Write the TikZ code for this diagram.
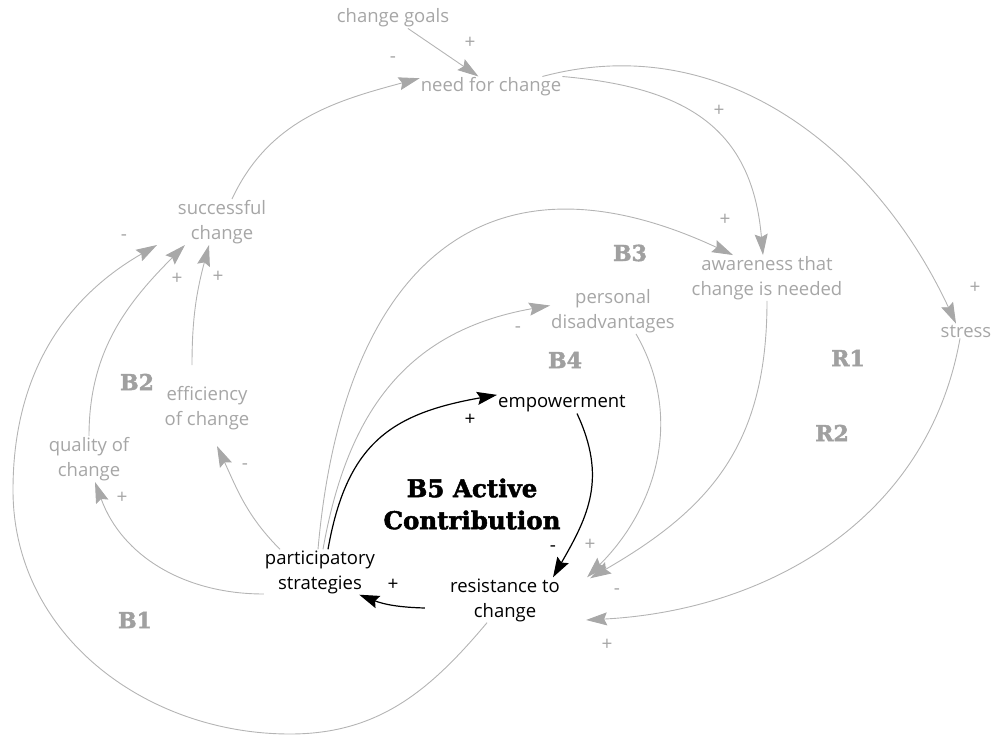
\documentclass[tikz,border=0pt]{standalone}
\usepackage{fontspec}
\setmainfont{Open Sans}
\newfontfamily\slabfont{DejaVu Serif}[BoldFeatures={FakeBold=2}]
\usetikzlibrary{arrows.meta}
\definecolor{vargray}{HTML}{A6A6A6}
\definecolor{linkgray}{HTML}{B4B4B4}
\definecolor{headgray}{HTML}{A8A8A8}
\definecolor{loopgray}{HTML}{A0A0A0}

\begin{document}
\begin{tikzpicture}[x=1pt,y=-1pt,
  var/.style={text=vargray,align=center,font=\fontsize{18.5}{25}\selectfont,inner sep=1pt},
  actor/.style={var,text=black},
  loopid/.style={text=loopgray,font=\slabfont\bfseries\fontsize{22}{22}\selectfont},
  sign/.style={text=vargray,font=\fontsize{19}{19}\selectfont,inner sep=0pt},
  bsign/.style={sign,text=black},
  link/.style={draw=linkgray,line width=0.9pt,-{Stealth[length=21pt,width=13pt,inset=3pt,color=headgray]}},
  blink/.style={draw=black,line width=1.2pt,-{Stealth[length=20pt,width=13pt,inset=3pt]}}]
\useasboundingbox (0,0) rectangle (992,735);

\node[var] (goals) at (393,18) {change goals};
\node[var] (need) at (491,87) {need for change};
\node[var] (success) at (222,222) {successful\\change};
\node[var] (aware) at (767,278) {awareness that\\change is needed};
\node[var] (stress) at (966,331) {stress};
\node[var] (disadv) at (613,311) {personal\\disadvantages};
\node[var] (effic) at (207,408) {efficiency\\of change};
\node[var] (quality) at (89,459) {quality of\\change};
\node[actor] (empower) at (562,404) {empowerment};
\node[actor] (partic) at (320,572) {participatory\\strategies};
\node[actor] (resist) at (505,600) {resistance to\\change};
\node[font=\slabfont\bfseries\fontsize{24.5}{32}\selectfont,align=center,inner sep=0pt] (activeloop) at (472,504) {B5 Active\\Contribution};

\foreach \n/\x/\y in {B1/135/620,B2/137/382,B3/630/253,B4/565/360,R1/848/358,R2/832/433}
  \node[loopid] (loop\n) at (\x,\y) {\n};

\foreach \x/\y/\s [count=\i] in {470/43/+,393/60/-,719/111/+,975/288/+,725/220/+,518/330/-,590/545/+,617/592/-,607/645/+,245/467/-,122/498/+,218/277/+,177/279/+,124/238/-}
  \node[sign] (sign\i) at (\x,\y) {\s};
\foreach \x/\y/\s [count=\i] in {470/420/+,553/549/-,393/585/+}
  \node[bsign] (bsign\i) at (\x,\y) {\s};

\draw[link] (goals.-35) -- (need.140);
\draw[link] ([xshift=10pt]success.north) to[out=65,in=195] (need.173);
\draw[link] ([xshift=-20pt]need.north east) to[out=15,in=115] ([xshift=-10pt]stress.north);
\draw[link] (need.north east) to[out=-5,in=95,looseness=1.2] ([xshift=-4pt]aware.north);
\draw[link] ([xshift=-2pt]partic.north) to[out=85,in=155,looseness=1.4] ([xshift=-34pt]aware.north);
\draw[link] ([xshift=3pt]partic.north) to[out=80,in=190,looseness=1.1] (disadv.175);
\draw[blink] ([xshift=8pt]partic.north) to[out=80,in=190,looseness=1.2] (empower.172);
\draw[blink] ([xshift=15pt]empower.south) to[out=-65,in=60,looseness=1.1] ([xshift=48pt]resist.north);
\draw[blink] ([xshift=-24pt,yshift=-8pt]resist.west) to[bend left=10] ([xshift=-17pt]partic.south east);
\draw[link] ([xshift=23pt]disadv.south) to[out=-60,in=45] ([xshift=26pt]resist.north east);
\draw[link] (aware.south) to[out=-90,in=30,looseness=1.1] ([xshift=29pt,yshift=-1pt]resist.north east);
\draw[link] ([xshift=-6pt]stress.south) to[out=-100,in=3] ([xshift=25pt,yshift=-20pt]resist.east);
\draw[link] ([xshift=-40pt]partic.north) to[out=135,in=-65] ([xshift=10pt,yshift=-15pt]effic.south);
\draw[link] ([yshift=-22pt]partic.west) to[out=180,in=-70] ([xshift=6pt]quality.south);
\draw[link] ([xshift=-15pt,yshift=20pt]effic.north) to[out=90,in=-105] ([xshift=-13pt]success.south);
\draw[link] (quality.north) to[out=90,in=-135] ([xshift=-37pt]success.south);
\draw[link] ([xshift=-18pt]resist.south) to[out=-130,in=0] (290,734) to[out=180,in=-90] (13,490) to[out=90,in=-150] ([xshift=-65pt]success.south);
\end{tikzpicture}
\end{document}
